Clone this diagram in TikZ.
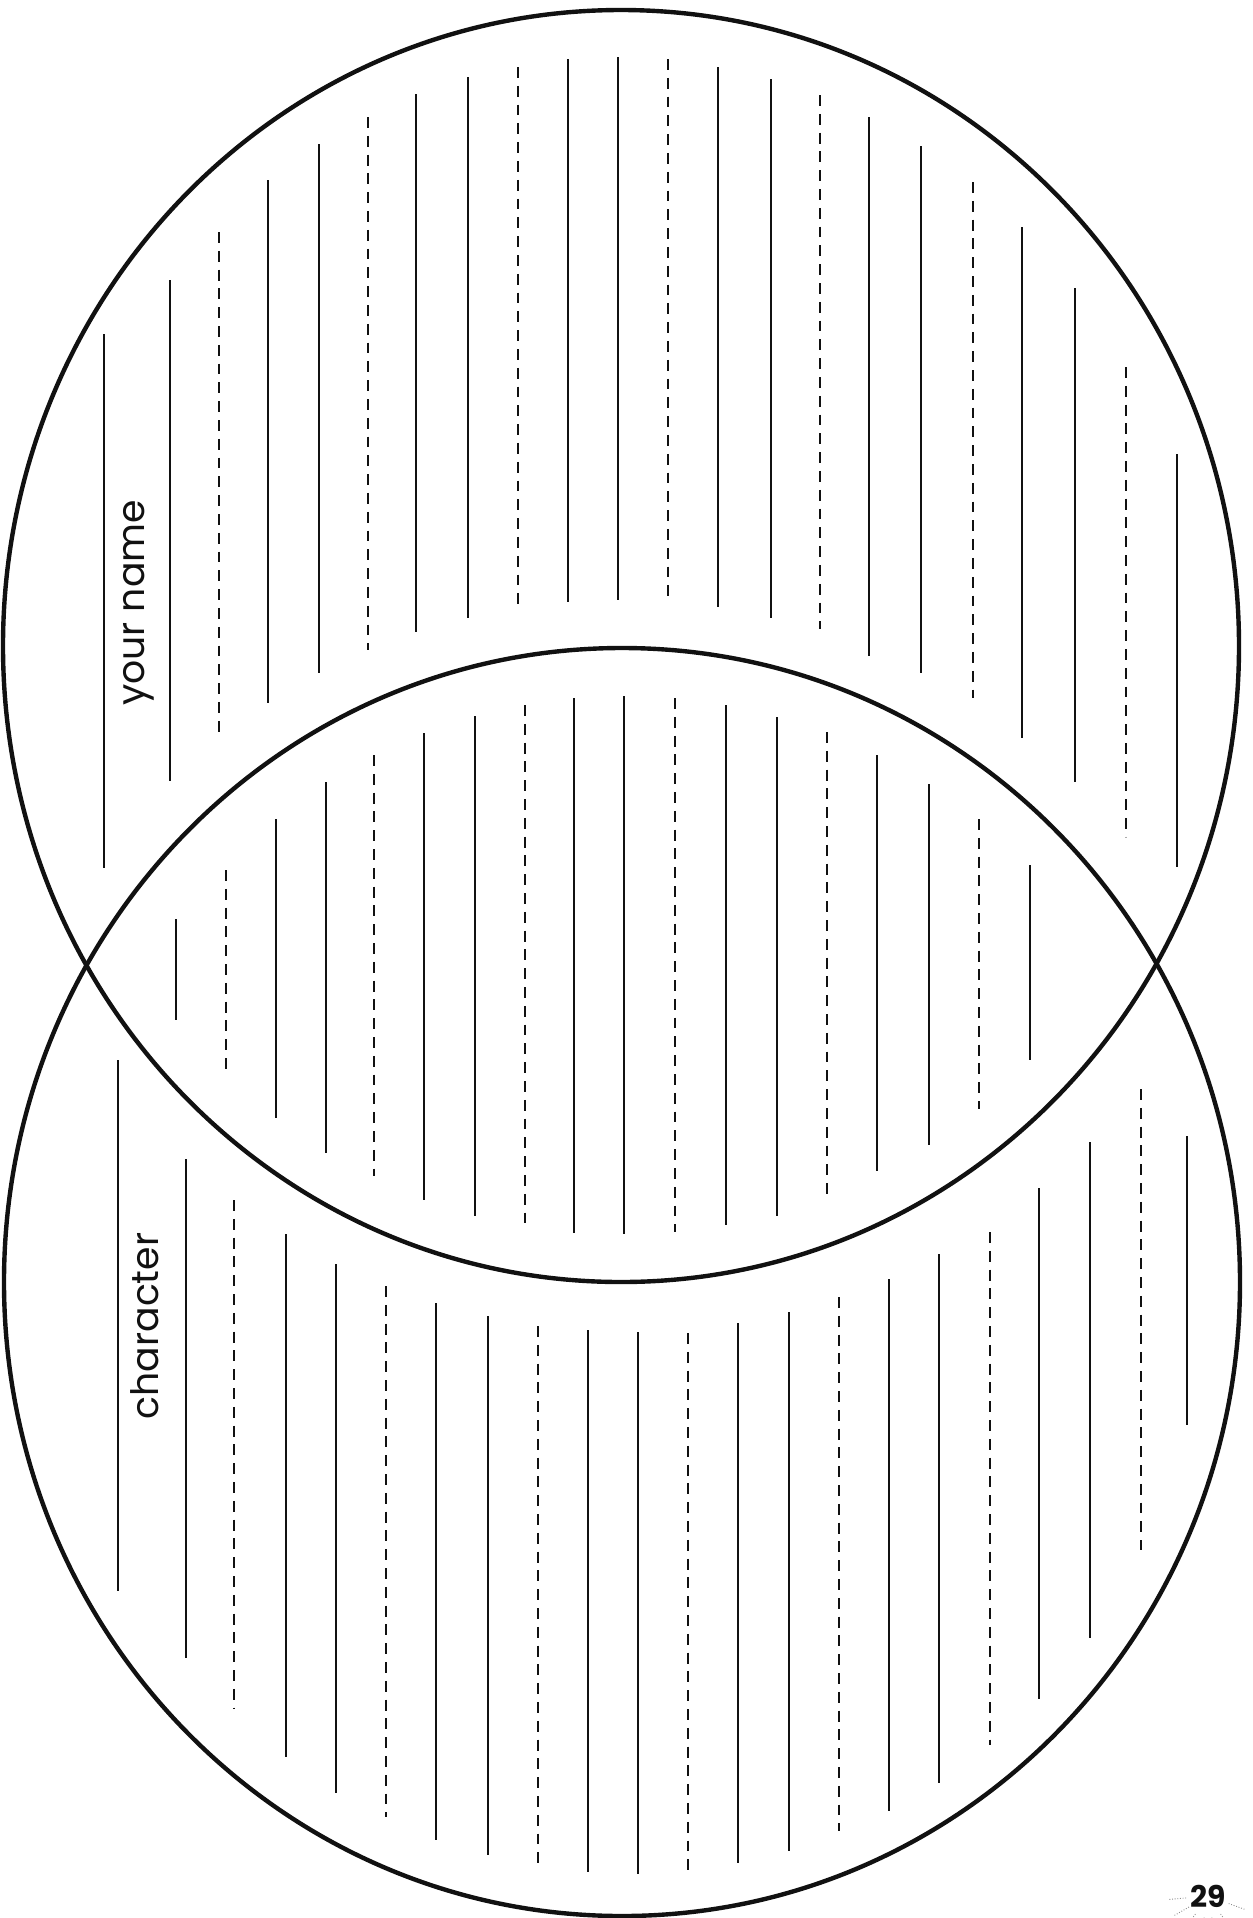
\documentclass[tikz,border=0pt]{standalone}
\usepackage{fontspec}
\usetikzlibrary{positioning}
\newfontfamily\labelfont{Poppins}
\definecolor{sheetink}{HTML}{111111}
\tikzset{
  ring/.style={draw=sheetink,line width=2.5pt},
  rule/.style={draw=sheetink,line width=0.95pt},
  labelrule/.style={rule,line width=1.15pt},
  dashrule/.style={rule,line width=0.85pt,dash pattern=on 6.2pt off 4.5pt},
  label/.style={font=\labelfont\fontsize{21.5}{21.5}\selectfont,text=sheetink,rotate=90,inner sep=0pt},
  spark/.style={draw=black!45,line width=0.5pt,densely dotted}
}
\begin{document}
\begin{tikzpicture}[x=0.02cm,y=-0.02cm]
  \useasboundingbox (0,0) rectangle (1253,1918);
  % the two rings
  \draw[ring] (621,646) ellipse [x radius=618, y radius=636];
  \draw[ring] (622,1282) ellipse [x radius=618, y radius=634];

  % upper ring: writing lines
  \draw[labelrule] (104,334) -- (104,868);
  \foreach \x/\ya/\yb in {170/280/781, 268/180/703, 319/144/673, 416/94/632, 468/77/618,
      568/59/602, 618/57/600, 718/67/607, 771/79/618, 869/117/656, 921/146/673,
      1022/227/738, 1075/288/782, 1177/454/867}
    \draw[rule] (\x,\ya) -- (\x,\yb);
  \foreach \x/\ya/\yb in {219/232/732, 368/117/650, 518/67/607, 668/59/600, 820/95/629,
      973/182/698, 1126/367/837}
    \draw[dashrule] (\x,\ya) -- (\x,\yb);

  % overlap: writing lines
  \foreach \x/\ya/\yb in {176/919/1020, 276/819/1118, 326/782/1153, 424/733/1200,
      475/716/1216, 574/698/1233, 624/696/1234, 726/705/1225, 777/717/1216,
      877/755/1171, 929/784/1145, 1030/865/1060}
    \draw[rule] (\x,\ya) -- (\x,\yb);
  \foreach \x/\ya/\yb in {226/870/1069, 374/755/1176, 525/705/1225, 675/698/1232,
      827/732/1194, 979/819/1109}
    \draw[dashrule] (\x,\ya) -- (\x,\yb);

  % lower ring: writing lines
  \draw[labelrule] (118,1060) -- (118,1591);
  \foreach \x/\ya/\yb in {186/1159/1658, 286/1234/1757, 336/1264/1793, 436/1303/1840,
      488/1316/1855, 588/1330/1872, 638/1332/1874, 738/1323/1863, 789/1312/1851,
      889/1279/1811, 939/1254/1783, 1039/1188/1699, 1090/1142/1638, 1187/1136/1425}
    \draw[rule] (\x,\ya) -- (\x,\yb);
  \foreach \x/\ya/\yb in {234/1200/1709, 386/1286/1817, 538/1326/1866, 688/1333/1870,
      839/1297/1831, 990/1232/1745, 1141/1089/1550}
    \draw[dashrule] (\x,\ya) -- (\x,\yb);

  % labels
  \node[label] (yourname) at (139,603) {your name};
  \node[label] (character) at (145,1326) {character};

  % page number
  \foreach \a in {20,55,80,100,125,150,175}
    \draw[spark] (1208,1896) ++(\a:22) -- ++(\a:18);
  \node[font=\labelfont\bfseries\fontsize{17}{17}\selectfont,text=sheetink,inner sep=0pt,anchor=south]
    (pagenum) at (1208,1908) {29};
\end{tikzpicture}
\end{document}
